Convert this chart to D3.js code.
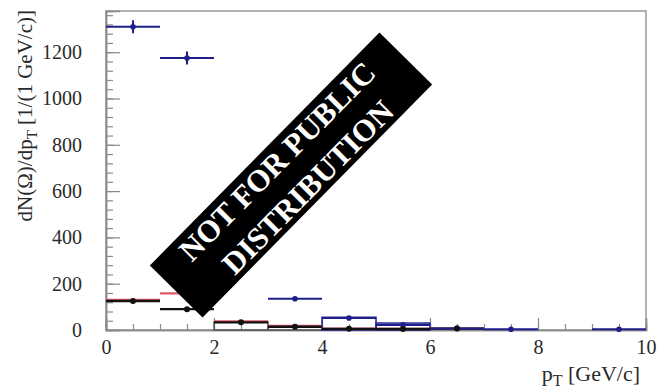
<!DOCTYPE html>
<html>
<head>
<meta charset="utf-8">
<script src="https://cdn.jsdelivr.net/npm/d3@7"></script>
<style>
  html, body { margin: 0; padding: 0; background: #fff; }
  svg { display: block; }
  text { font-family: "Liberation Serif", "Times New Roman", serif; }
</style>
</head>
<body>
<svg id="chart" width="672" height="389"></svg>
<script>
// pT bins [GeV/c], lower edges and width
const binLo = [0, 1, 2, 3, 4, 5, 6, 7, 8, 9];
const binWidth = 1;

// dN/dpT per bin (null = empty bin)
const blueValues  = [1310, 1175, 450, 135, 52, 22, 7, 3, null, 3];
const blueErrors  = [28, 28, 20, 8, 5, 3, 2, 1, null, 1];
const blackValues = [125, 90, 33, 14, 5, 4, 6, null, null, null];
const redValues   = [130, 158, 37, 18, 6, 5, 6, null, null, null];

// open boxes drawn from zero
const greyBoxValues = [null, null, 35, 16, null, null, null, null, null, null];
const blueBoxValues = [null, null, null, null, 55, 30, null, null, null, null];

// axis ticks
const xMajorTicks = [0, 2, 4, 6, 8, 10];
const xMinorTicks = d3.range(0, 10.01, 0.5);
const yMajorTicks = [0, 200, 400, 600, 800, 1000, 1200];
const yMinorTicks = d3.range(0, 1378, 40);

const watermarkLines = ["NOT FOR PUBLIC", "DISTRIBUTION"];

const svg = d3.select("#chart");
const x = d3.scaleLinear().domain([0, 10]).range([106, 646]);
const y = d3.scaleLinear().domain([0, 1378]).range([330, 11]);

const colBlue = "#1f1f8c", colBlack = "#111111", colRed = "#e0586a", colGrey = "#555555";

// frame
svg.append("rect")
  .attr("x", x(0)).attr("y", y(1378))
  .attr("width", x(10) - x(0)).attr("height", y(0) - y(1378))
  .attr("fill", "none").attr("stroke", "#9a9a9a").attr("stroke-width", 1.5);

// axes with inward ticks
function styleAxis(g) {
  g.select(".domain").attr("stroke", "#8a8a8a").attr("stroke-width", 1.5);
  g.selectAll(".tick line").attr("stroke", "#8a8a8a").attr("stroke-width", 1.2);
}
svg.append("g").attr("transform", `translate(0,${y(0)})`)
  .call(d3.axisBottom(x).tickValues(xMinorTicks).tickSize(-6).tickFormat(""))
  .call(styleAxis);
svg.append("g").attr("transform", `translate(0,${y(0)})`)
  .call(d3.axisBottom(x).tickValues(xMajorTicks).tickSize(-12).tickPadding(10).tickFormat(d3.format("d")))
  .call(styleAxis)
  .call(g => g.selectAll(".tick text").attr("font-size", 20).attr("fill", "#2a2a2a"));
svg.append("g").attr("transform", `translate(${x(0)},0)`)
  .call(d3.axisLeft(y).tickValues(yMinorTicks).tickSize(-7).tickFormat(""))
  .call(styleAxis);
svg.append("g").attr("transform", `translate(${x(0)},0)`)
  .call(d3.axisLeft(y).tickValues(yMajorTicks).tickSize(-14).tickPadding(24).tickFormat(d3.format("d")))
  .call(styleAxis)
  .call(g => g.selectAll(".tick text").attr("font-size", 20).attr("fill", "#2a2a2a"));

// axis titles
const xt = svg.append("text").attr("x", 640).attr("y", 381).attr("text-anchor", "end")
  .attr("font-size", 22).attr("fill", "#2a2a2a");
xt.append("tspan").text("p");
xt.append("tspan").attr("font-size", 16).attr("dy", 5).text("T");
xt.append("tspan").attr("dy", -5).text(" [GeV/c]");

const yt = svg.append("text").attr("transform", "translate(32,10) rotate(-90)")
  .attr("text-anchor", "end").attr("font-size", 21).attr("fill", "#2a2a2a");
yt.append("tspan").text("dN(Ω)/dp");
yt.append("tspan").attr("font-size", 15).attr("dy", 5).text("T");
yt.append("tspan").attr("dy", -5).text(" [1/(1 GeV/c)]");

const plot = svg.append("g");

// open boxes
function boxes(vals, color) {
  plot.selectAll(null).data(binLo.map((lo, i) => ({ lo, v: vals[i] })).filter(d => d.v != null))
    .enter().append("rect")
    .attr("x", d => x(d.lo)).attr("width", d => x(d.lo + binWidth) - x(d.lo))
    .attr("y", d => y(d.v)).attr("height", d => y(0) - y(d.v))
    .attr("fill", "none").attr("stroke", color).attr("stroke-width", 1.5);
}
boxes(greyBoxValues, colGrey);
boxes(blueBoxValues, colBlue);

// horizontal bin bars
function bars(vals, color, w) {
  plot.selectAll(null).data(binLo.map((lo, i) => ({ lo, v: vals[i] })).filter(d => d.v != null))
    .enter().append("line")
    .attr("x1", d => x(d.lo)).attr("x2", d => x(d.lo + binWidth))
    .attr("y1", d => y(d.v)).attr("y2", d => y(d.v))
    .attr("stroke", color).attr("stroke-width", w);
}
bars(redValues, colRed, 2.2);
bars(blackValues, colBlack, 2.4);
bars(blueValues, colBlue, 2);

// points with vertical errors
const bluePts = binLo.map((lo, i) => ({ c: lo + binWidth / 2, v: blueValues[i], e: blueErrors[i] })).filter(d => d.v != null);
plot.selectAll(null).data(bluePts).enter().append("line")
  .attr("x1", d => x(d.c)).attr("x2", d => x(d.c))
  .attr("y1", d => y(d.v + d.e)).attr("y2", d => y(Math.max(0, d.v - d.e)))
  .attr("stroke", colBlue).attr("stroke-width", 2);
plot.selectAll(null).data(bluePts).enter().append("circle")
  .attr("cx", d => x(d.c)).attr("cy", d => y(d.v)).attr("r", 2.8).attr("fill", colBlue);

const blackPts = binLo.map((lo, i) => ({ c: lo + binWidth / 2, v: blackValues[i] })).filter(d => d.v != null);
plot.selectAll(null).data(blackPts).enter().append("circle")
  .attr("cx", d => x(d.c)).attr("cy", d => y(d.v)).attr("r", 3).attr("fill", colBlack);

// watermark banner
const wm = svg.append("g").attr("transform", "translate(291,175) rotate(-45.4)");
wm.append("rect").attr("x", -163.5).attr("y", -37).attr("width", 327).attr("height", 74).attr("fill", "#000");
wm.selectAll(null).data(watermarkLines).enter().append("text")
  .attr("x", (d, i) => i === 0 ? 0 : 3)
  .attr("y", (d, i) => i === 0 ? -9 : 31)
  .attr("text-anchor", "middle").attr("font-size", 31).attr("font-weight", "bold")
  .attr("fill", "#fff").text(d => d);
</script>
</body>
</html>
